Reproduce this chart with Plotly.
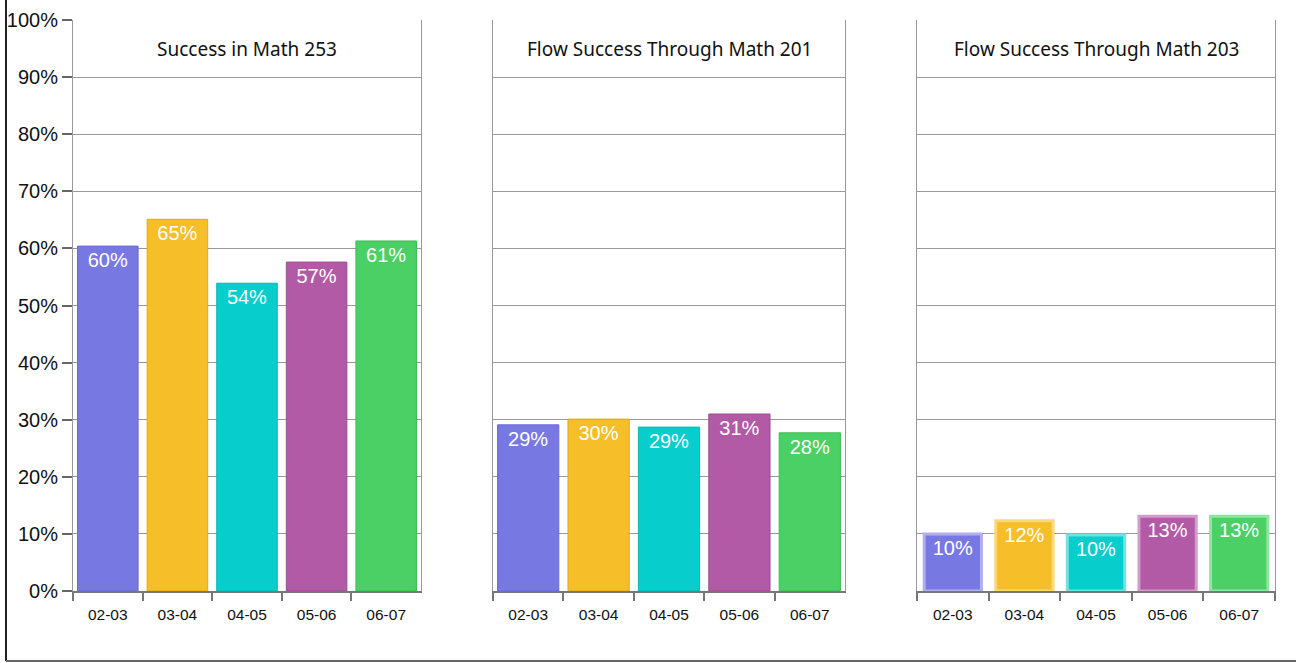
import plotly.graph_objects as go

categories = ["02-03", "03-04", "04-05", "05-06", "06-07"]
panel_titles = ["Success in Math 253", "Flow Success Through Math 201", "Flow Success Through Math 203"]
values_253 = [60.4, 65.1, 53.9, 57.6, 61.3]
values_201 = [29.1, 30.1, 28.7, 31.0, 27.7]
values_203 = [10.0, 12.3, 9.8, 13.1, 13.1]
labels_253 = ["60%", "65%", "54%", "57%", "61%"]
labels_201 = ["29%", "30%", "29%", "31%", "28%"]
labels_203 = ["10%", "12%", "10%", "13%", "13%"]
y_ticks = [0, 10, 20, 30, 40, 50, 60, 70, 80, 90, 100]
y_tick_labels = ["0%", "10%", "20%", "30%", "40%", "50%", "60%", "70%", "80%", "90%", "100%"]

colors = ["#7878E3", "#F6BE28", "#07CDCC", "#B25AA5", "#4AD064"]
border_dark = ["#6A6AD0", "#E0A820", "#06B8B8", "#9E4E92", "#3FBC57"]
border_light = ["#B0B0F0", "#FAD878", "#70E2E2", "#D49CCB", "#90E6A0"]

W, H = 1296, 663
mt, mb = 20, 72
domains = [(73, 421), (493, 845), (917, 1275)]

fig = go.Figure()
series = [(values_253, labels_253), (values_201, labels_201), (values_203, labels_203)]
for i, (vals, labs) in enumerate(series):
    ax = "" if i == 0 else str(i + 1)
    if i < 2:
        line = dict(color=border_dark, width=1)
        width = 0.87
    else:
        line = dict(color=border_light, width=3)
        width = 0.80
    fig.add_trace(go.Bar(
        x=categories, y=vals, text=labs,
        marker=dict(color=colors, line=line),
        width=width,
        textposition="inside", insidetextanchor="end", textangle=0,
        constraintext="none",
        textfont=dict(color="white", size=20, family="Liberation Sans, Arial"),
        xaxis="x" + ax, yaxis="y" + ax, showlegend=False,
        hoverinfo="skip",
    ))

layout = dict(
    width=W, height=H,
    margin=dict(l=0, r=0, t=mt, b=mb, autoexpand=False),
    paper_bgcolor="white", plot_bgcolor="white",
    font=dict(family="Liberation Sans, Arial", color="#222"),
)
annotations = []
for i, (a, b) in enumerate(domains):
    ax = "" if i == 0 else str(i + 1)
    layout["xaxis" + ax] = dict(
        type="category", categoryorder="array", categoryarray=categories,
        domain=[a / W, b / W], anchor="y" + ax,
        range=[-0.5, 4.5], showgrid=False, automargin=False,
        showline=True, linecolor="#777", linewidth=2,
        ticks="outside", tickson="boundaries", ticklen=8, tickwidth=2, tickcolor="#777",
        ticklabelstandoff=8,
        tickfont=dict(size=15.5, color="#111"),
        fixedrange=True,
    )
    layout["yaxis" + ax] = dict(
        anchor="x" + ax, range=[0, 100], automargin=False,
        tickvals=y_ticks, ticktext=y_tick_labels,
        showticklabels=(i == 0),
        ticks="outside" if i == 0 else "",
        ticklen=10, tickwidth=2, tickcolor="#666",
        tickfont=dict(size=20, color="#111"),
        showgrid=True, gridcolor="#999", gridwidth=1,
        showline=True, linecolor="#999", linewidth=1, mirror=True,
        zeroline=False, fixedrange=True,
    )
    annotations.append(dict(
        text=panel_titles[i], x=(a + b) / 2 / W, xref="paper", xanchor="center",
        y=95, yref="y" + ax, showarrow=False,
        font=dict(size=19, family="Noto Sans, Open Sans", color="#111"),
    ))
layout["annotations"] = annotations

ph = H - mt - mb
def py(pix):
    return (H - mb - pix) / ph

layout["shapes"] = [
    dict(type="line", xref="paper", yref="paper", x0=6 / W, x1=6 / W, y0=py(-5), y1=py(661),
         line=dict(color="#222", width=2)),
    dict(type="line", xref="paper", yref="paper", x0=6 / W, x1=1.01, y0=py(661), y1=py(661),
         line=dict(color="#666", width=2)),
]
fig.update_layout(**layout)
fig.write_html("out.html", config={"displayModeBar": False},
               post_script="document.body.style.margin='0';")
